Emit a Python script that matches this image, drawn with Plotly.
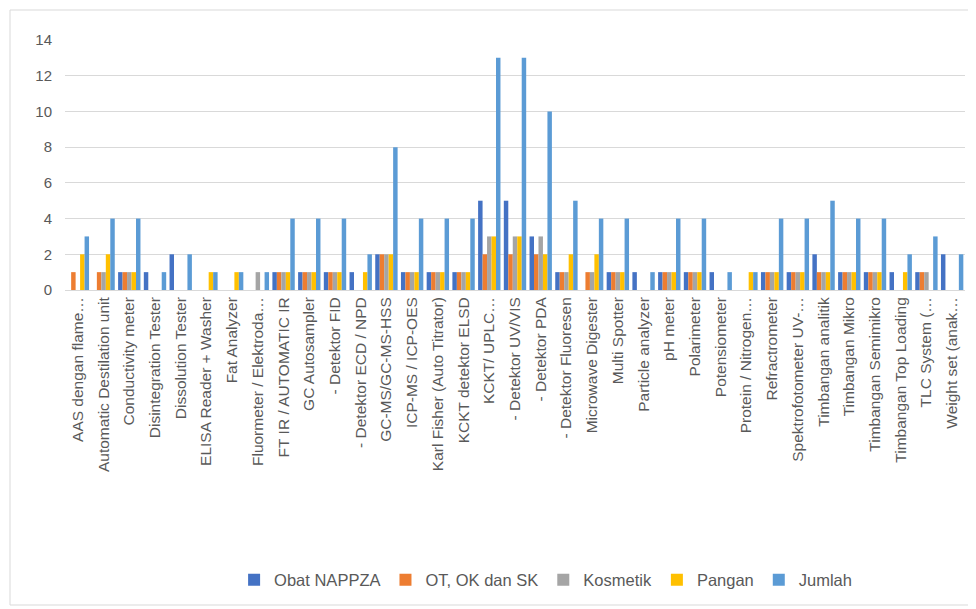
import plotly.graph_objects as go

categories = [
    "AAS dengan flame…", "Automatic Destilation unit", "Conductivity meter",
    "Disintegration Tester", "Dissolution Tester", "ELISA Reader + Washer",
    "Fat Analyzer", "Fluormeter / Elektroda…", "FT IR / AUTOMATIC IR",
    "GC Autosampler", "- Detektor FID", "- Detektor ECD / NPD",
    "GC-MS/GC-MS-HSS", "ICP-MS / ICP-OES", "Karl Fisher (Auto Titrator)",
    "KCKT detektor ELSD", "KCKT/ UPLC…", "- Detektor UV/VIS", "- Detektor PDA",
    "- Detektor Fluoresen", "Microwave Digester", "Multi Spotter",
    "Particle analyzer", "pH meter", "Polarimeter", "Potensiometer",
    "Protein / Nitrogen…", "Refractrometer", "Spektrofotometer UV-…",
    "Timbangan analitik", "Timbangan Mikro", "Timbangan Semimikro",
    "Timbangan Top Loading", "TLC System (…", "Weight set (anak…",
]

obat_nappza = [0, 0, 1, 1, 2, 0, 0, 0, 1, 1, 1, 1, 2, 1, 1, 1, 5, 5, 3, 1, 0, 1, 1, 1, 1, 1, 0, 1, 1, 2, 1, 1, 1, 1, 2]
ot_ok_sk    = [1, 1, 1, 0, 0, 0, 0, 0, 1, 1, 1, 0, 2, 1, 1, 1, 2, 2, 2, 1, 1, 1, 0, 1, 1, 0, 0, 1, 1, 1, 1, 1, 0, 1, 0]
kosmetik    = [0, 1, 1, 0, 0, 0, 0, 1, 1, 1, 1, 0, 2, 1, 1, 1, 3, 3, 3, 1, 1, 1, 0, 1, 1, 0, 0, 1, 1, 1, 1, 1, 0, 1, 0]
pangan      = [2, 2, 1, 0, 0, 1, 1, 0, 1, 1, 1, 1, 2, 1, 1, 1, 3, 3, 2, 2, 2, 1, 0, 1, 1, 0, 1, 1, 1, 1, 1, 1, 1, 0, 0]
jumlah      = [3, 4, 4, 1, 2, 1, 1, 1, 4, 4, 4, 2, 8, 4, 4, 4, 13, 13, 10, 5, 4, 4, 1, 4, 4, 1, 1, 4, 4, 5, 4, 4, 2, 3, 2]

series = [
    ("Obat NAPPZA", obat_nappza, "#4472C4"),
    ("OT, OK dan SK", ot_ok_sk, "#ED7D31"),
    ("Kosmetik", kosmetik, "#A5A5A5"),
    ("Pangan", pangan, "#FFC000"),
    ("Jumlah", jumlah, "#5B9BD5"),
]

fig = go.Figure()
for name, vals, color in series:
    fig.add_trace(go.Bar(x=categories, y=vals, name=name, marker_color=color,
                         marker_line_width=0))

# page body has an 8px offset; figure spans (8,8)-(976,608)
fig.update_layout(
    width=968, height=600,
    margin=dict(l=57, r=11, t=32, b=318),
    paper_bgcolor="white", plot_bgcolor="white",
    barmode="group", bargap=0.13, bargroupgap=0,
    font=dict(family="Liberation Sans, Arial, sans-serif", size=15, color="#595959"),
    showlegend=True,
    legend=dict(orientation="h", x=0.534, xanchor="center", y=-1.16, yanchor="middle",
                font=dict(size=16.5, color="#595959"), itemwidth=30,
                tracegroupgap=0, traceorder="normal"),
    xaxis=dict(tickangle=-90, tickfont=dict(size=15.5, color="#595959"),
               showgrid=False, showline=True, linecolor="#D9D9D9", linewidth=1,
               ticks="", automargin=False),
    yaxis=dict(range=[0, 14], dtick=2, showgrid=True, gridcolor="#D9D9D9",
               gridwidth=1, zeroline=False, tickfont=dict(size=15, color="#595959"),
               ticks="", showline=False, automargin=False, ticklabelstandoff=12),
    shapes=[dict(type="rect", xref="paper", yref="paper",
                 x0=-0.0611, x1=1.0105, y0=-1.26, y1=1.12,
                 line=dict(color="#D9D9D9", width=1), fillcolor="rgba(0,0,0,0)",
                 layer="below")],
)

fig.write_html("out.html")
